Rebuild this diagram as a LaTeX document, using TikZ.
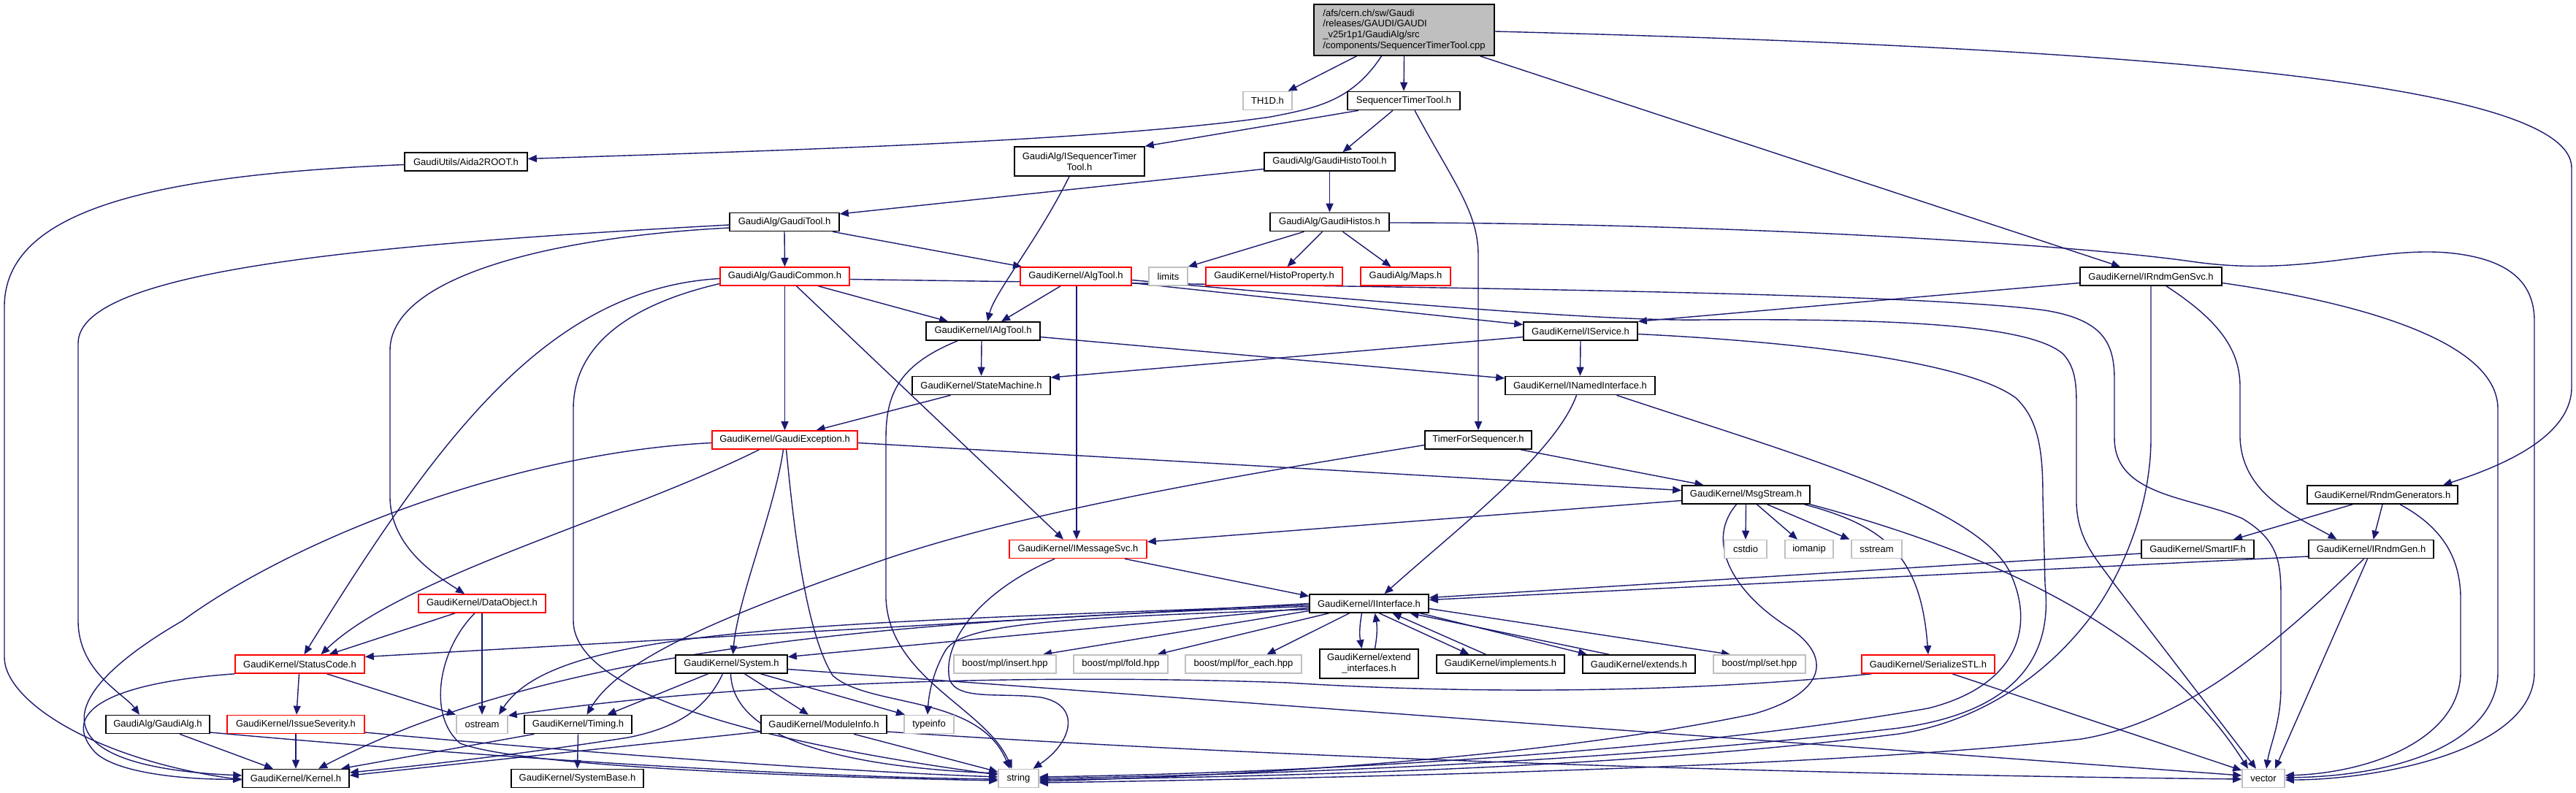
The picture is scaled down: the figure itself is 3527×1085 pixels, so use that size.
\documentclass[tikz,border=0pt]{standalone}
\usepackage{fontspec}
\setmainfont{Liberation Sans}
\usetikzlibrary{arrows.meta,backgrounds}
\definecolor{edgeblue}{HTML}{191970}
\definecolor{boxgray}{HTML}{BFBFBF}
\tikzset{
  nbox/.style={draw=black, line width=1.6pt, fill=white, inner sep=0pt, minimum height=25pt, align=center, font=\fontsize{13}{15}\selectfont},
  rbox/.style={nbox, draw=red},
  gbox/.style={nbox, draw=boxgray},
  dep/.style={draw=edgeblue, line width=1.4pt, -{Triangle[length=12pt,width=10pt]}},
}
\begin{document}
\begin{tikzpicture}[x=1pt,y=-1pt]
\useasboundingbox (0,0) rectangle (3527,1085);
% nodes
\node[nbox, fill=boxgray, minimum width=247pt, minimum height=70pt, align=left, font=\fontsize{13}{14.8}\selectfont] (main) at (1922.5,41) {/afs/cern.ch/sw/Gaudi\\/releases/GAUDI/GAUDI\\\_v25r1p1/GaudiAlg/src\\/components/SequencerTimerTool.cpp};
\node[gbox, minimum width=67pt] (th1d) at (1735.5,138) {TH1D.h};
\node[nbox, minimum width=154pt] (stt) at (1922,138) {SequencerTimerTool.h};
\node[nbox, minimum width=168pt] (aida) at (638,221.5) {GaudiUtils/Aida2ROOT.h};
\node[nbox, minimum width=178pt, minimum height=40pt] (istt) at (1478,221) {GaudiAlg/ISequencerTimer\\Tool.h};
\node[nbox, minimum width=179pt] (ght) at (1820.5,221.5) {GaudiAlg/GaudiHistoTool.h};
\node[nbox, minimum width=150pt] (gtool) at (1074,304) {GaudiAlg/GaudiTool.h};
\node[nbox, minimum width=163pt] (gh) at (1820.5,304) {GaudiAlg/GaudiHistos.h};
\node[rbox, minimum width=177pt] (gcommon) at (1074.5,378.5) {GaudiAlg/GaudiCommon.h};
\node[rbox, minimum width=152pt] (algtool) at (1473,378.5) {GaudiKernel/AlgTool.h};
\node[gbox, minimum width=53pt] (limits) at (1599.5,378.5) {limits};
\node[rbox, minimum width=187pt] (histoprop) at (1744.5,378.5) {GaudiKernel/HistoProperty.h};
\node[rbox, minimum width=123pt] (maps) at (1924.5,378.5) {GaudiAlg/Maps.h};
\node[nbox, minimum width=194pt] (irndmgensvc) at (2945,378.5) {GaudiKernel/IRndmGenSvc.h};
\node[nbox, minimum width=156pt] (ialgtool) at (1346,453.5) {GaudiKernel/IAlgTool.h};
\node[nbox, minimum width=156pt] (iservice) at (2164,453.5) {GaudiKernel/IService.h};
\node[nbox, minimum width=189pt] (statemachine) at (1343.5,528) {GaudiKernel/StateMachine.h};
\node[nbox, minimum width=205pt] (inamed) at (2163.5,528) {GaudiKernel/INamedInterface.h};
\node[rbox, minimum width=199pt] (gexc) at (1074.5,602.5) {GaudiKernel/GaudiException.h};
\node[nbox, minimum width=146pt] (timerfs) at (2024,602.5) {TimerForSequencer.h};
\node[nbox, minimum width=175pt] (msgstream) at (2390.5,677.5) {GaudiKernel/MsgStream.h};
\node[nbox, minimum width=206pt] (rndmgen) at (3262,677.5) {GaudiKernel/RndmGenerators.h};
\node[rbox, minimum width=188pt] (imsgsvc) at (1476,752) {GaudiKernel/IMessageSvc.h};
\node[gbox, minimum width=58pt] (cstdio) at (2390,752) {cstdio};
\node[gbox, minimum width=66pt] (iomanip) at (2477,752) {iomanip};
\node[gbox, minimum width=69pt] (sstream) at (2569.5,752) {sstream};
\node[nbox, minimum width=154pt] (smartif) at (3009,752) {GaudiKernel/SmartIF.h};
\node[nbox, minimum width=171pt] (irndmgen) at (3246.5,752) {GaudiKernel/IRndmGen.h};
\node[rbox, minimum width=174pt] (dataobj) at (660,826.5) {GaudiKernel/DataObject.h};
\node[nbox, minimum width=163pt] (iinterface) at (1874.5,826.5) {GaudiKernel/IInterface.h};
\node[rbox, minimum width=177pt] (statuscode) at (410.5,909.5) {GaudiKernel/StatusCode.h};
\node[nbox, minimum width=153pt] (system) at (1001.5,909.5) {GaudiKernel/System.h};
\node[gbox, minimum width=140pt] (binsert) at (1376,909.5) {boost/mpl/insert.hpp};
\node[gbox, minimum width=129pt] (bfold) at (1534.5,909.5) {boost/mpl/fold.hpp};
\node[gbox, minimum width=159pt] (bforeach) at (1702.5,909.5) {boost/mpl/for\_each.hpp};
\node[nbox, minimum width=135pt, minimum height=40pt] (extendif) at (1874.5,909) {GaudiKernel/extend\\\_interfaces.h};
\node[nbox, minimum width=175pt] (implements) at (2054.5,909.5) {GaudiKernel/implements.h};
\node[nbox, minimum width=154pt] (extends) at (2244,909.5) {GaudiKernel/extends.h};
\node[gbox, minimum width=126pt] (bset) at (2409,909.5) {boost/mpl/set.hpp};
\node[rbox, minimum width=182pt] (serialize) at (2640,909.5) {GaudiKernel/SerializeSTL.h};
\node[nbox, minimum width=142pt] (gaudialg) at (216,992) {GaudiAlg/GaudiAlg.h};
\node[rbox, minimum width=188pt] (issue) at (405,992) {GaudiKernel/IssueSeverity.h};
\node[gbox, minimum width=70pt] (ostream) at (660,992) {ostream};
\node[nbox, minimum width=147pt] (timing) at (791.5,992) {GaudiKernel/Timing.h};
\node[nbox, minimum width=172pt] (moduleinfo) at (1128,992) {GaudiKernel/ModuleInfo.h};
\node[gbox, minimum width=68pt] (typeinfo) at (1272,992) {typeinfo};
\node[nbox, minimum width=146pt] (kernel) at (405,1066) {GaudiKernel/Kernel.h};
\node[nbox, minimum width=181pt] (systembase) at (790.5,1066) {GaudiKernel/SystemBase.h};
\node[gbox, minimum width=55pt] (string) at (1394.5,1066) {string};
\node[gbox, minimum width=58pt] (vector) at (3099,1066) {vector};
% edges
\begin{pgfonlayer}{background}
% main
\draw[dep] ([xshift=-65pt]main.south) -- ([xshift=28pt]th1d.north);
\draw[dep] (main.south) -- (stt.north);
\draw[dep] ([xshift=-31pt]main.south) .. controls (1850,140) and (1800,148) .. (1740,160) .. controls (1500,195) and (1000,208) .. ([yshift=4pt]aida.east);
\draw[dep] ([xshift=104pt]main.south) -- ([xshift=-42pt]irndmgensvc.north);
\draw[dep] ([yshift=-2pt]main.east) .. controls (2900,65) and (3521,110) .. (3521,230) -- (3521,530) .. controls (3521,600) and (3420,640) .. ([xshift=83pt]rndmgen.north);
% stt
\draw[dep] ([xshift=-62pt]stt.south) -- (istt.north east);
\draw[dep] ([xshift=-15pt]stt.south) -- ([xshift=18pt]ght.north);
\draw[dep] ([xshift=15pt]stt.south) .. controls (1990,250) and (2024,290) .. (2024,350) -- (timerfs.north);
% aida
\draw[dep] ([yshift=-4pt]aida.west) .. controls (200,240) and (6,290) .. (6,420) -- (6,900) .. controls (6,960) and (130,1040) .. ([yshift=-2pt]kernel.west);
% istt
\draw[dep] ([xshift=-14pt]istt.south) .. controls (1420,330) and (1362,400) .. ([xshift=6pt]ialgtool.north);
% ght
\draw[dep] (ght.south) -- (gh.north);
\draw[dep] ([yshift=-10pt]ght.west) -- ([yshift=11pt]gtool.east);
% gh
\draw[dep] ([xshift=-35pt]gh.south) -- (limits.north east);
\draw[dep] ([xshift=-10pt]gh.south) -- ([xshift=18pt]histoprop.north);
\draw[dep] ([xshift=18pt]gh.south) -- ([xshift=-20pt]maps.north);
\draw[dep] ([yshift=-1pt]gh.east) .. controls (2300,305) and (2800,330) .. (3000,358) .. controls (3150,380) and (3250,338) .. (3350,346) .. controls (3440,354) and (3470,390) .. (3470,440) -- (3470,920) .. controls (3470,1030) and (3250,1068) .. ([yshift=-2pt]vector.east);
% gtool
\draw[dep] (gtool.south) -- (gcommon.north);
\draw[dep] ([xshift=66pt]gtool.south) -- ([xshift=-74pt]algtool.north);
\draw[dep] ([yshift=-4pt]gtool.west) .. controls (500,335) and (107,370) .. (107,470) -- (107,850) .. controls (107,920) and (170,950) .. ([xshift=-25pt]gaudialg.north);
\draw[dep] ([yshift=-8pt]gtool.west) .. controls (750,325) and (534,380) .. (534,480) -- (534,680) .. controls (534,750) and (600,790) .. ([xshift=-24pt]dataobj.north);
% gcommon
\draw[dep] (gcommon.south) -- (gexc.north);
\draw[dep] ([xshift=16pt]gcommon.south) -- ([xshift=-20pt]imsgsvc.north);
\draw[dep] ([xshift=46pt]gcommon.south) -- ([xshift=-48pt]ialgtool.north);
\draw[dep] ([yshift=-3pt]gcommon.west) .. controls (750,395) and (600,600) .. ([xshift=6pt]statuscode.north);
\draw[dep] ([yshift=-10pt]gcommon.west) .. controls (850,420) and (785,480) .. (785,560) -- (785,850) .. controls (785,960) and (1100,1025) .. ([yshift=5pt]string.west);
\draw[dep] ([yshift=-4pt]gcommon.east) .. controls (1800,392) and (2600,398) .. (2800,425) .. controls (2880,438) and (2895,470) .. (2895,520) -- (2895,600) .. controls (2895,680) and (3000,680) .. (3070,710) .. controls (3120,740) and (3123,770) .. (3123,820) -- (3123,940) .. controls (3123,990) and (3108,1020) .. ([xshift=4pt]vector.north);
% algtool
\draw[dep] ([xshift=-21pt]algtool.south) -- ([xshift=25pt]ialgtool.north);
\draw[dep] ([xshift=1pt]algtool.south) -- ([xshift=-2pt]imsgsvc.north);
\draw[dep] ([yshift=-9pt]algtool.east) -- ([yshift=9pt]iservice.west);
\draw[dep] ([yshift=-5pt]algtool.east) .. controls (1900,415) and (2200,440) .. (2330,438) .. controls (2600,436) and (2780,445) .. (2825,485) .. controls (2843,505) and (2843,530) .. (2843,560) -- (2843,690) .. controls (2845,740) and (2870,765) .. (2895,800) -- ([xshift=-10pt]vector.north);
% ialgtool
\draw[dep] ([xshift=-2pt]ialgtool.south) -- (statemachine.north);
\draw[dep] ([yshift=-8pt]ialgtool.east) -- ([yshift=10pt]inamed.west);
\draw[dep] ([xshift=-35pt]ialgtool.south) .. controls (1230,500) and (1213,540) .. (1213,600) -- (1213,820) .. controls (1218,930) and (1350,970) .. ([xshift=-9pt]string.north);
% irndmgensvc
\draw[dep] ([yshift=-9pt]irndmgensvc.west) -- (iservice.north east);
\draw[dep] ([xshift=21pt]irndmgensvc.south) .. controls (3040,440) and (3067,480) .. (3067,530) -- (3067,600) .. controls (3070,680) and (3150,710) .. ([xshift=-47pt]irndmgen.north);
\draw[dep] (irndmgensvc.south) -- (2945,600) .. controls (2945,700) and (2900,800) .. (2853,857) .. controls (2790,935) and (2700,990) .. (2600,1005) .. controls (2200,1055) and (1700,1064) .. ([yshift=-2pt]string.east);
\draw[dep] ([yshift=-9pt]irndmgensvc.east) .. controls (3200,410) and (3420,460) .. (3420,560) -- (3420,920) .. controls (3420,1010) and (3300,1062) .. ([yshift=1pt]vector.east);
% iservice
\draw[dep] ([yshift=-8pt]iservice.west) -- ([yshift=11pt]statemachine.east);
\draw[dep] (iservice.south) -- (inamed.north);
\draw[dep] ([yshift=-4pt]iservice.east) .. controls (2500,470) and (2700,500) .. (2760,545) .. controls (2792,575) and (2797,620) .. (2797,680) -- (2800,800) .. controls (2811,900) and (2760,975) .. (2600,997) .. controls (2200,1045) and (1700,1062) .. (string.east);
% inamed
\draw[dep] ([xshift=-5pt]inamed.south) .. controls (2130,620) and (2000,720) .. ([xshift=21pt]iinterface.north);
\draw[dep] ([xshift=50pt]inamed.south) .. controls (2450,620) and (2700,690) .. (2750,780) .. controls (2790,860) and (2760,940) .. (2640,970) .. controls (2300,1030) and (1800,1058) .. ([yshift=2pt]string.east);
% timerfs
\draw[dep] ([xshift=58pt]timerfs.south) -- ([xshift=-58pt]msgstream.north);
\draw[dep] ([yshift=-7pt]timerfs.west) .. controls (1700,650) and (1400,700) .. (1200,770) .. controls (1000,840) and (850,900) .. ([xshift=12pt]timing.north);
% gexc
\draw[dep] ([yshift=-4pt]gexc.west) .. controls (700,620) and (400,740) .. (250,850) .. controls (60,960) and (60,1050) .. ([yshift=4pt]kernel.west);
\draw[dep] ([xshift=-35pt]gexc.south) .. controls (850,710) and (550,790) .. ([xshift=29pt]statuscode.north);
\draw[dep] ([xshift=-2pt]gexc.south) .. controls (1060,700) and (1010,820) .. ([xshift=2pt]system.north);
\draw[dep] ([xshift=2pt]gexc.south) .. controls (1085,700) and (1100,860) .. (1140,925) .. controls (1190,970) and (1340,950) .. ([xshift=-12pt]string.north);
\draw[dep] ([yshift=-4pt]gexc.east) -- ([yshift=6pt]msgstream.west);
% statemachine
\draw[dep] ([xshift=-42pt]statemachine.south) -- ([xshift=43pt]gexc.north);
% msgstream
\draw[dep] ([yshift=-8pt]msgstream.west) -- ([yshift=10pt]imsgsvc.east);
\draw[dep] (msgstream.south) -- (cstdio.north);
\draw[dep] ([xshift=15pt]msgstream.south) -- ([xshift=-16pt]iomanip.north);
\draw[dep] ([xshift=29pt]msgstream.south) -- ([xshift=-37pt]sstream.north);
\draw[dep] ([xshift=-13pt]msgstream.south) .. controls (2335,740) and (2370,810) .. (2450,860) .. controls (2510,900) and (2500,950) .. (2400,978) .. controls (2100,1040) and (1700,1062) .. ([yshift=-4pt]string.east);
\draw[dep] ([xshift=80pt]msgstream.south) .. controls (2580,720) and (2630,760) .. (serialize.north);
\draw[dep] (msgstream.south east) .. controls (2700,750) and (2950,850) .. ([xshift=-21pt]vector.north);
% rndmgen
\draw[dep] ([xshift=-41pt]rndmgen.south) -- ([xshift=49pt]smartif.north);
\draw[dep] (rndmgen.south) -- ([xshift=3pt]irndmgen.north);
\draw[dep] ([xshift=24pt]rndmgen.south) .. controls (3340,720) and (3369,760) .. (3369,820) -- (3369,920) .. controls (3369,1010) and (3250,1058) .. ([yshift=4pt]vector.east);
% smartif, irndmgen
\draw[dep] ([yshift=-6pt]smartif.west) -- ([yshift=8pt]iinterface.east);
\draw[dep] ([yshift=-10pt]irndmgen.west) -- ([yshift=5pt]iinterface.east);
\draw[dep] ([xshift=-10pt]irndmgen.south) .. controls (3100,900) and (2980,990) .. (2850,1012) .. controls (2500,1052) and (1800,1066) .. ([yshift=-6pt]string.east);
\draw[dep] ([xshift=-5pt]irndmgen.south) -- ([xshift=16pt]vector.north);
% dataobj
\draw[dep] ([xshift=-37pt]dataobj.south) -- ([xshift=40pt]statuscode.north);
\draw[dep] (dataobj.south) -- (ostream.north);
\draw[dep] ([xshift=-10pt]dataobj.south) .. controls (600,890) and (585,980) .. (630,1018) .. controls (700,1045) and (1000,1062) .. ([yshift=-3pt]string.west);
% iinterface
\draw[dep] (iinterface.west) -- ([yshift=10pt]statuscode.east);
\draw[dep] ([yshift=-2pt]iinterface.west) .. controls (1100,855) and (760,860) .. ([xshift=23pt]ostream.north);
\draw[dep] ([yshift=-4pt]iinterface.west) .. controls (1200,850) and (750,890) .. ([xshift=31pt]kernel.north);
\draw[dep] ([yshift=-6pt]iinterface.west) -- ([yshift=10pt]system.east);
\draw[dep] ([yshift=-10pt]iinterface.west) -- ([xshift=52pt]binsert.north);
\draw[dep] ([xshift=-55pt]iinterface.south) -- ([xshift=50pt]bfold.north);
\draw[dep] ([xshift=-27pt]iinterface.south) -- ([xshift=32pt]bforeach.north);
\draw[dep] ([yshift=-8pt]iinterface.west) .. controls (1500,845) and (1320,850) .. (1295,890) .. controls (1280,915) and (1272,945) .. ([xshift=-2pt]typeinfo.north);
\draw[dep] ([xshift=-10pt]iinterface.south) to[bend right=10] ([xshift=-10pt]extendif.north);
\draw[dep] ([xshift=8pt]extendif.north) to[bend right=10] ([xshift=8pt]iinterface.south);
\draw[dep] ([xshift=14pt]iinterface.south) -- ([xshift=-43pt]implements.north);
\draw[dep] ([xshift=-20pt]implements.north) -- ([xshift=32pt]iinterface.south);
\draw[dep] ([xshift=70pt]iinterface.south) -- ([xshift=-71pt]extends.north);
\draw[dep] ([xshift=-41pt]extends.north) -- ([xshift=56pt]iinterface.south);
\draw[dep] ([yshift=-7pt]iinterface.east) -- ([xshift=-40pt]bset.north);
% statuscode
\draw[dep] ([xshift=-1pt]statuscode.south) -- ([xshift=1pt]issue.north);
\draw[dep] ([xshift=37pt]statuscode.south) -- ([xshift=-36pt]ostream.north);
\draw[dep] (statuscode.south west) .. controls (150,935) and (80,975) .. (130,1030) .. controls (160,1060) and (260,1068) .. ([yshift=-1pt]kernel.west);
% issue
\draw[dep] (issue.south) -- (kernel.north);
\draw[dep] ([yshift=-11pt]issue.east) .. controls (900,1040) and (1200,1058) .. ([yshift=2pt]string.west);
% gaudialg
\draw[dep] ([xshift=30pt]gaudialg.south) -- ([xshift=-31pt]kernel.north);
\draw[dep] ([yshift=-11pt]gaudialg.east) .. controls (700,1040) and (1100,1064) .. ([yshift=-1pt]string.west);
% timing
\draw[dep] ([xshift=-60pt]timing.south) -- ([xshift=62pt]kernel.north);
\draw[dep] (timing.south) -- (systembase.north);
% system
\draw[dep] ([xshift=-32pt]system.south) -- ([xshift=40pt]timing.north);
\draw[dep] ([xshift=-12pt]system.south) .. controls (965,975) and (920,998) .. (860,1010) .. controls (700,1035) and (560,1050) .. ([yshift=8pt]kernel.east);
\draw[dep] ([xshift=18pt]system.south) -- ([xshift=-21pt]moduleinfo.north);
\draw[dep] ([xshift=40pt]system.south) -- ([xshift=-33pt]typeinfo.north);
\draw[dep] ([xshift=-1pt]system.south) .. controls (1003,1010) and (1150,1050) .. ([yshift=7pt]string.west);
\draw[dep] ([yshift=-7pt]system.east) -- ([yshift=4pt]vector.west);
% moduleinfo
\draw[dep] ([yshift=-10pt]moduleinfo.west) -- ([yshift=4pt]kernel.east);
\draw[dep] ([xshift=41pt]moduleinfo.south) -- ([yshift=9pt]string.west);
\draw[dep] ([yshift=-10pt]moduleinfo.east) .. controls (1700,1035) and (2400,1060) .. ([yshift=-1pt]vector.west);
% imsgsvc
\draw[dep] ([xshift=64pt]imsgsvc.south) -- ([yshift=10pt]iinterface.west);
\draw[dep] ([xshift=-32pt]imsgsvc.south) .. controls (1340,810) and (1290,880) .. (1300,930) .. controls (1310,960) and (1370,948) .. (1425,955) .. controls (1480,965) and (1470,1015) .. ([xshift=20pt]string.north);
% serialize
\draw[dep] ([xshift=14pt]serialize.south west) .. controls (2300,950) and (2000,950) .. (1764,935) .. controls (1400,922) and (1000,935) .. ([yshift=12pt]ostream.east);
\draw[dep] ([xshift=33pt]serialize.south) -- ([yshift=11pt]vector.west);
\end{pgfonlayer}
\end{tikzpicture}
\end{document}
